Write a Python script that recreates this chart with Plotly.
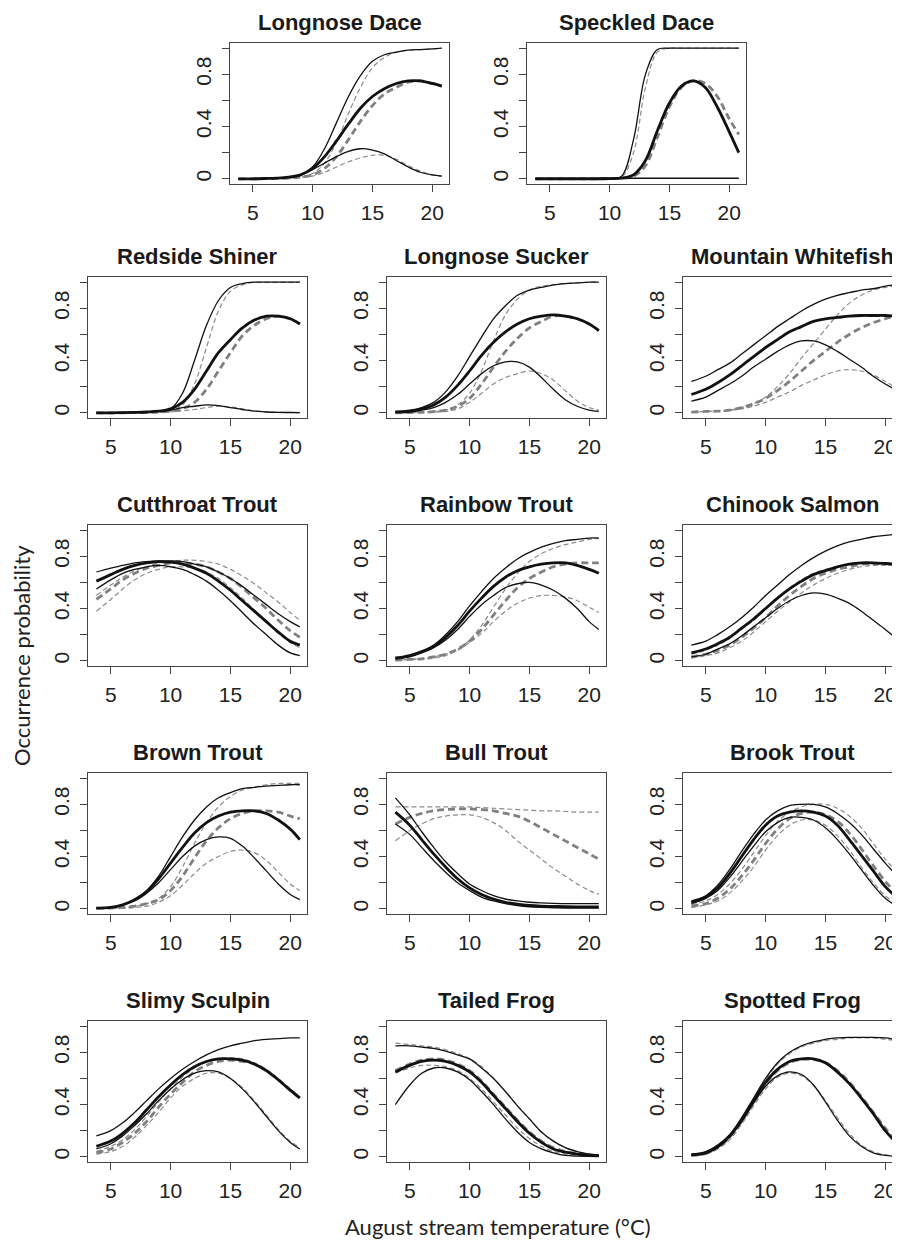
import plotly.graph_objects as go

# Temperature grid (°C) at which curves were read
X = [3.8, 5, 6, 7, 8, 9, 10, 11, 12, 13, 14, 15, 16, 17, 18, 19, 20, 20.8]

# Each species: [black_mid, black_hi, black_lo, gray_mid, gray_hi, gray_lo]
longnose_dace = [
    [0, 0, 0.002, 0.005, 0.012, 0.03, 0.08, 0.17, 0.29, 0.42, 0.54, 0.63, 0.69, 0.73, 0.75, 0.75, 0.73, 0.71],
    [0, 0, 0.002, 0.005, 0.012, 0.03, 0.09, 0.23, 0.43, 0.63, 0.79, 0.9, 0.95, 0.97, 0.985, 0.99, 0.995, 1.0],
    [0, 0, 0.002, 0.005, 0.012, 0.03, 0.07, 0.12, 0.17, 0.21, 0.23, 0.22, 0.19, 0.14, 0.09, 0.05, 0.03, 0.02],
    [0, 0, 0.001, 0.003, 0.006, 0.013, 0.03, 0.08, 0.17, 0.3, 0.44, 0.56, 0.65, 0.7, 0.74, 0.75, 0.73, 0.71],
    [0, 0, 0.001, 0.003, 0.006, 0.013, 0.04, 0.12, 0.28, 0.5, 0.7, 0.85, 0.93, 0.97, 0.985, 0.99, 0.995, 1.0],
    [0, 0, 0.001, 0.003, 0.006, 0.01, 0.02, 0.05, 0.09, 0.13, 0.16, 0.18, 0.18, 0.15, 0.1, 0.06, 0.03, 0.02],
]
speckled_dace = [
    [0, 0, 0, 0, 0, 0, 0.001, 0.005, 0.03, 0.14, 0.37, 0.58, 0.71, 0.75, 0.7, 0.55, 0.36, 0.2],
    [0, 0, 0, 0, 0, 0, 0.001, 0.02, 0.3, 0.8, 0.99, 1.0, 1.0, 1.0, 1.0, 1.0, 1.0, 1.0],
    [0.004, 0.004, 0.004, 0.004, 0.004, 0.004, 0.004, 0.004, 0.004, 0.004, 0.004, 0.004, 0.004, 0.004, 0.004, 0.004, 0.004, 0.004],
    [0, 0, 0, 0, 0, 0, 0.001, 0.004, 0.02, 0.1, 0.32, 0.55, 0.7, 0.75, 0.73, 0.63, 0.46, 0.34],
    [0, 0, 0, 0, 0, 0, 0.001, 0.01, 0.2, 0.7, 0.97, 1.0, 1.0, 1.0, 1.0, 1.0, 1.0, 1.0],
    [0.002, 0.002, 0.002, 0.002, 0.002, 0.002, 0.002, 0.002, 0.002, 0.002, 0.002, 0.002, 0.002, 0.002, 0.002, 0.002, 0.002, 0.002],
]
redside_shiner = [
    [0, 0, 0.001, 0.003, 0.006, 0.012, 0.03, 0.08, 0.18, 0.32, 0.46, 0.56, 0.65, 0.71, 0.74, 0.74, 0.72, 0.68],
    [0, 0, 0.001, 0.003, 0.006, 0.012, 0.03, 0.15, 0.4, 0.67, 0.86, 0.96, 0.99, 1.0, 1.0, 1.0, 1.0, 1.0],
    [0, 0, 0.001, 0.003, 0.006, 0.012, 0.02, 0.04, 0.05, 0.06, 0.055, 0.04, 0.025, 0.012, 0.006, 0.003, 0.002, 0.001],
    [0, 0, 0, 0.001, 0.003, 0.006, 0.012, 0.03, 0.08, 0.18, 0.32, 0.46, 0.59, 0.67, 0.72, 0.74, 0.72, 0.68],
    [0, 0, 0, 0.001, 0.003, 0.006, 0.015, 0.06, 0.22, 0.5, 0.78, 0.93, 0.98, 1.0, 1.0, 1.0, 1.0, 1.0],
    [0, 0, 0, 0.001, 0.002, 0.004, 0.008, 0.015, 0.025, 0.04, 0.05, 0.045, 0.03, 0.015, 0.007, 0.003, 0.002, 0.001],
]
longnose_sucker = [
    [0.005, 0.01, 0.03, 0.06, 0.12, 0.21, 0.32, 0.44, 0.54, 0.62, 0.68, 0.72, 0.74, 0.75, 0.74, 0.72, 0.68, 0.63],
    [0.01, 0.02, 0.04, 0.08, 0.16, 0.28, 0.43, 0.58, 0.72, 0.82, 0.9, 0.94, 0.96, 0.98, 0.99, 0.995, 1.0, 1.0],
    [0.003, 0.008, 0.02, 0.04, 0.08, 0.14, 0.22, 0.3, 0.36, 0.39, 0.39, 0.35, 0.27, 0.18, 0.1, 0.05, 0.02, 0.01],
    [0, 0.002, 0.004, 0.008, 0.02, 0.05, 0.11, 0.22, 0.35, 0.47, 0.57, 0.65, 0.7, 0.74, 0.74, 0.72, 0.68, 0.63],
    [0, 0.002, 0.004, 0.01, 0.02, 0.06, 0.15, 0.32, 0.55, 0.75, 0.87, 0.94, 0.97, 0.98, 0.99, 0.995, 1.0, 1.0],
    [0, 0.001, 0.003, 0.006, 0.01, 0.03, 0.08, 0.15, 0.22, 0.27, 0.3, 0.32, 0.3, 0.25, 0.17, 0.09, 0.04, 0.02],
]
mountain_whitefish = [
    [0.14, 0.18, 0.23, 0.29, 0.36, 0.43, 0.5, 0.56, 0.62, 0.66, 0.7, 0.72, 0.73, 0.74, 0.745, 0.745, 0.745, 0.74],
    [0.24, 0.28, 0.33, 0.38, 0.45, 0.52, 0.59, 0.66, 0.72, 0.78, 0.83, 0.87, 0.9, 0.92, 0.94, 0.95, 0.97, 0.98],
    [0.09, 0.12, 0.17, 0.22, 0.28, 0.35, 0.41, 0.47, 0.52, 0.55, 0.55, 0.52, 0.47, 0.41, 0.35, 0.28, 0.22, 0.18],
    [0.005, 0.01, 0.012, 0.02, 0.04, 0.07, 0.11, 0.17, 0.24, 0.32, 0.4, 0.47, 0.54, 0.6, 0.65, 0.69, 0.72, 0.74],
    [0.005, 0.01, 0.012, 0.02, 0.04, 0.07, 0.12, 0.2, 0.3, 0.42, 0.53, 0.64, 0.75, 0.84, 0.9, 0.94, 0.96, 0.97],
    [0.005, 0.01, 0.012, 0.02, 0.03, 0.05, 0.08, 0.12, 0.16, 0.21, 0.25, 0.29, 0.32, 0.33, 0.32, 0.29, 0.24, 0.2],
]
cutthroat_trout = [
    [0.61, 0.66, 0.7, 0.73, 0.75, 0.76, 0.755, 0.74, 0.71, 0.67, 0.61, 0.54, 0.46, 0.38, 0.3, 0.22, 0.15, 0.12],
    [0.68, 0.71, 0.73, 0.75, 0.76, 0.765, 0.765, 0.76, 0.74, 0.72, 0.68, 0.63, 0.57, 0.5, 0.43, 0.36, 0.3, 0.26],
    [0.55, 0.62, 0.67, 0.7, 0.72, 0.73, 0.72, 0.7, 0.66, 0.61, 0.54, 0.46, 0.37, 0.28, 0.2, 0.12, 0.06, 0.04],
    [0.47, 0.55, 0.62, 0.67, 0.71, 0.73, 0.75, 0.75, 0.74, 0.72, 0.68, 0.63, 0.56, 0.48, 0.4, 0.31, 0.23, 0.18],
    [0.5, 0.58, 0.64, 0.69, 0.72, 0.75, 0.76, 0.77, 0.77, 0.76, 0.74, 0.7, 0.65, 0.59, 0.52, 0.45, 0.37, 0.31],
    [0.38, 0.47, 0.55, 0.62, 0.67, 0.7, 0.72, 0.72, 0.71, 0.68, 0.63, 0.56, 0.48, 0.39, 0.3, 0.21, 0.14, 0.1],
]
rainbow_trout = [
    [0.02, 0.04, 0.07, 0.11, 0.18, 0.27, 0.38, 0.48, 0.57, 0.64, 0.69, 0.72, 0.74, 0.75, 0.75, 0.73, 0.7, 0.67],
    [0.025, 0.04, 0.07, 0.12, 0.2, 0.3, 0.42, 0.53, 0.63, 0.71, 0.78, 0.83, 0.87, 0.9, 0.92, 0.93, 0.94, 0.94],
    [0.015, 0.03, 0.06, 0.1, 0.16, 0.24, 0.34, 0.43, 0.5, 0.56, 0.59, 0.6, 0.58, 0.54, 0.48, 0.4, 0.3, 0.24],
    [0.005, 0.01, 0.015, 0.03, 0.05, 0.09, 0.15, 0.24, 0.35, 0.46, 0.56, 0.63, 0.68, 0.72, 0.74, 0.75, 0.75, 0.75],
    [0.005, 0.01, 0.015, 0.03, 0.05, 0.09, 0.16, 0.27, 0.41, 0.55, 0.67, 0.76, 0.82, 0.86, 0.89, 0.91, 0.93, 0.94],
    [0.005, 0.01, 0.015, 0.02, 0.04, 0.08, 0.14, 0.21, 0.3, 0.38, 0.44, 0.48, 0.5, 0.5, 0.49, 0.46, 0.41, 0.37],
]
chinook_salmon = [
    [0.06, 0.09, 0.13, 0.18, 0.25, 0.32, 0.4, 0.48, 0.55, 0.61, 0.66, 0.69, 0.72, 0.74, 0.75, 0.75, 0.745, 0.74],
    [0.12, 0.15, 0.2, 0.26, 0.33, 0.41, 0.5, 0.58, 0.66, 0.73, 0.79, 0.84, 0.88, 0.91, 0.93, 0.95, 0.96, 0.97],
    [0.03, 0.05, 0.09, 0.13, 0.19, 0.26, 0.33, 0.4, 0.46, 0.5, 0.52, 0.51, 0.48, 0.44, 0.38, 0.31, 0.24, 0.18],
    [0.03, 0.05, 0.08, 0.12, 0.18, 0.25, 0.33, 0.42, 0.5, 0.57, 0.63, 0.67, 0.7, 0.72, 0.74, 0.745, 0.745, 0.74],
    [0.05, 0.08, 0.12, 0.17, 0.24, 0.31, 0.4, 0.48, 0.56, 0.62, 0.67, 0.7, 0.72, 0.74, 0.75, 0.75, 0.745, 0.74],
    [0.02, 0.04, 0.06, 0.1, 0.15, 0.22, 0.3, 0.38, 0.45, 0.52, 0.58, 0.63, 0.67, 0.7, 0.72, 0.73, 0.73, 0.73],
]
brown_trout = [
    [0.005, 0.01, 0.03, 0.07, 0.13, 0.23, 0.35, 0.47, 0.58, 0.66, 0.71, 0.74, 0.75, 0.75, 0.73, 0.68, 0.61, 0.53],
    [0.005, 0.01, 0.03, 0.07, 0.14, 0.25, 0.4, 0.55, 0.68, 0.78, 0.85, 0.89, 0.92, 0.93, 0.94, 0.945, 0.95, 0.95],
    [0.005, 0.01, 0.03, 0.06, 0.12, 0.2, 0.3, 0.4, 0.48, 0.53, 0.55, 0.54, 0.48, 0.39, 0.29, 0.19, 0.11, 0.07],
    [0.003, 0.005, 0.01, 0.02, 0.04, 0.07, 0.14, 0.25, 0.39, 0.52, 0.62, 0.69, 0.73, 0.75, 0.75, 0.74, 0.71, 0.69],
    [0.003, 0.005, 0.01, 0.02, 0.04, 0.08, 0.17, 0.32, 0.5, 0.66, 0.78, 0.86, 0.91, 0.93, 0.95, 0.96, 0.96, 0.96],
    [0.002, 0.003, 0.005, 0.01, 0.02, 0.05, 0.1, 0.18, 0.27, 0.35, 0.4, 0.44, 0.45, 0.43, 0.37, 0.28, 0.19, 0.14],
]
bull_trout = [
    [0.74, 0.64, 0.53, 0.42, 0.32, 0.23, 0.16, 0.11, 0.075, 0.05, 0.035, 0.025, 0.02, 0.018, 0.016, 0.015, 0.015, 0.015],
    [0.85, 0.72, 0.59, 0.47, 0.36, 0.27, 0.19, 0.14, 0.1, 0.075, 0.06, 0.05, 0.045, 0.042, 0.04, 0.04, 0.04, 0.04],
    [0.65, 0.57, 0.47, 0.37, 0.28, 0.2, 0.14, 0.09, 0.06, 0.04, 0.025, 0.015, 0.01, 0.008, 0.006, 0.005, 0.005, 0.005],
    [0.65, 0.7, 0.73, 0.75, 0.76, 0.765, 0.765, 0.76, 0.75, 0.73, 0.71, 0.67, 0.62, 0.57, 0.52, 0.47, 0.42, 0.38],
    [0.78, 0.78, 0.78, 0.78, 0.78, 0.78, 0.78, 0.775, 0.77, 0.765, 0.76, 0.755, 0.75, 0.75, 0.745, 0.74, 0.74, 0.74],
    [0.52, 0.6, 0.65, 0.69, 0.71, 0.72, 0.72, 0.7, 0.66, 0.6, 0.52, 0.45, 0.38, 0.31, 0.25, 0.19, 0.14, 0.11],
]
brook_trout = [
    [0.05, 0.09, 0.16, 0.27, 0.4, 0.53, 0.64, 0.71, 0.74, 0.75, 0.74, 0.71, 0.64, 0.53, 0.41, 0.29, 0.17, 0.1],
    [0.06, 0.1, 0.18, 0.3, 0.44, 0.57, 0.68, 0.75, 0.79, 0.8, 0.8, 0.78, 0.73, 0.66, 0.57, 0.46, 0.35, 0.27],
    [0.04, 0.08, 0.14, 0.24, 0.36, 0.48, 0.59, 0.66, 0.7, 0.7, 0.68, 0.62, 0.53, 0.42, 0.3, 0.18, 0.08, 0.03],
    [0.02, 0.04, 0.08, 0.15, 0.25, 0.37, 0.5, 0.61, 0.69, 0.73, 0.74, 0.72, 0.67, 0.58, 0.46, 0.33, 0.21, 0.13],
    [0.03, 0.06, 0.11, 0.19, 0.3, 0.43, 0.56, 0.67, 0.74, 0.78, 0.8, 0.8, 0.77, 0.71, 0.62, 0.5, 0.38, 0.3],
    [0.01, 0.03, 0.06, 0.12, 0.21, 0.32, 0.45, 0.56, 0.64, 0.68, 0.68, 0.64, 0.56, 0.45, 0.32, 0.2, 0.1, 0.05],
]
slimy_sculpin = [
    [0.08, 0.12, 0.18, 0.26, 0.36, 0.46, 0.55, 0.63, 0.69, 0.73, 0.75, 0.75, 0.74, 0.71, 0.66, 0.59, 0.51, 0.45],
    [0.16, 0.2, 0.26, 0.34, 0.43, 0.52, 0.6, 0.67, 0.73, 0.78, 0.82, 0.85, 0.87, 0.89, 0.9, 0.905, 0.91, 0.91],
    [0.06, 0.1, 0.16, 0.24, 0.33, 0.43, 0.52, 0.59, 0.64, 0.66, 0.65, 0.6, 0.52, 0.42, 0.31, 0.2, 0.11, 0.06],
    [0.03, 0.06, 0.11, 0.18, 0.27, 0.38, 0.48, 0.57, 0.65, 0.7, 0.73, 0.74, 0.73, 0.71, 0.66, 0.59, 0.51, 0.45],
    [0.04, 0.08, 0.13, 0.21, 0.31, 0.42, 0.52, 0.61, 0.68, 0.73, 0.75, 0.76, 0.75, 0.72, 0.67, 0.6, 0.52, 0.46],
    [0.02, 0.04, 0.08, 0.15, 0.24, 0.34, 0.45, 0.54, 0.6, 0.64, 0.64, 0.6, 0.53, 0.43, 0.32, 0.21, 0.12, 0.07],
]
tailed_frog = [
    [0.65, 0.7, 0.73, 0.74, 0.73, 0.7, 0.65, 0.57, 0.47, 0.37, 0.27, 0.18, 0.11, 0.06, 0.035, 0.02, 0.012, 0.01],
    [0.85, 0.85, 0.84, 0.83, 0.81, 0.78, 0.75, 0.68, 0.6, 0.5, 0.39, 0.29, 0.19, 0.12, 0.07, 0.04, 0.02, 0.015],
    [0.4, 0.55, 0.64, 0.68, 0.68, 0.65, 0.59, 0.5, 0.4, 0.29, 0.19, 0.11, 0.06, 0.03, 0.01, 0.005, 0.003, 0.002],
    [0.66, 0.71, 0.74, 0.75, 0.74, 0.71, 0.66, 0.58, 0.48, 0.38, 0.28, 0.19, 0.12, 0.07, 0.04, 0.025, 0.015, 0.01],
    [0.87, 0.86, 0.85, 0.84, 0.82, 0.79, 0.75, 0.69, 0.6, 0.5, 0.39, 0.29, 0.19, 0.12, 0.07, 0.04, 0.02, 0.015],
    [0.64, 0.68, 0.7, 0.7, 0.69, 0.66, 0.6, 0.52, 0.42, 0.32, 0.22, 0.14, 0.08, 0.04, 0.02, 0.01, 0.005, 0.004],
]
spotted_frog = [
    [0.015, 0.03, 0.08, 0.16, 0.28, 0.43, 0.57, 0.67, 0.73, 0.75, 0.75, 0.72, 0.65, 0.56, 0.45, 0.33, 0.2, 0.12],
    [0.02, 0.04, 0.09, 0.17, 0.3, 0.45, 0.6, 0.72, 0.8, 0.85, 0.88, 0.9, 0.91, 0.915, 0.915, 0.915, 0.91, 0.9],
    [0.01, 0.03, 0.07, 0.15, 0.27, 0.41, 0.54, 0.62, 0.65, 0.63, 0.55, 0.42, 0.28, 0.16, 0.08, 0.03, 0.01, 0.005],
    [0.01, 0.025, 0.07, 0.15, 0.27, 0.42, 0.56, 0.66, 0.72, 0.745, 0.745, 0.72, 0.66, 0.57, 0.46, 0.34, 0.22, 0.13],
    [0.015, 0.035, 0.08, 0.16, 0.29, 0.44, 0.59, 0.71, 0.79, 0.84, 0.87, 0.89, 0.9, 0.91, 0.91, 0.91, 0.9, 0.89],
    [0.008, 0.02, 0.06, 0.13, 0.25, 0.39, 0.52, 0.61, 0.64, 0.62, 0.55, 0.43, 0.3, 0.18, 0.09, 0.04, 0.015, 0.006],
]

TITLES = ["Longnose Dace", "Speckled Dace",
          "Redside Shiner", "Longnose Sucker", "Mountain Whitefish",
          "Cutthroat Trout", "Rainbow Trout", "Chinook Salmon",
          "Brown Trout", "Bull Trout", "Brook Trout",
          "Slimy Sculpin", "Tailed Frog", "Spotted Frog"]
SPECIES = [longnose_dace, speckled_dace,
           redside_shiner, longnose_sucker, mountain_whitefish,
           cutthroat_trout, rainbow_trout, chinook_salmon,
           brown_trout, bull_trout, brook_trout,
           slimy_sculpin, tailed_frog, spotted_frog]
X_TICKS = [5, 10, 15, 20]
Y_TICKS = [0, 0.2, 0.4, 0.6, 0.8, 1.0]
Y_TICKTEXT = ["0", "", "0.4", "", "0.8", ""]

# The page body adds an 8px margin, so the figure is sized/positioned to compensate.
OFF = 8
W, H = 900 - OFF, 1242 - OFF
BOX_W, BOX_H = 219, 141
# panel box positions in window pixels (left, top)
POS = [(230, 43), (527, 43),
       (88, 277), (387, 277), (683, 277),
       (88, 525), (387, 525), (683, 525),
       (88, 773), (387, 773), (683, 773),
       (88, 1021), (387, 1021), (683, 1021)]

# style per curve: black mid/hi/lo, gray mid/hi/lo
STYLES = [
    dict(color="#111111", width=2.8, dash="solid"),
    dict(color="#111111", width=1.3, dash="solid"),
    dict(color="#111111", width=1.3, dash="solid"),
    dict(color="#808080", width=2.8, dash="7px,4px"),
    dict(color="#8c8c8c", width=1.2, dash="5px,3px"),
    dict(color="#8c8c8c", width=1.2, dash="5px,3px"),
]
DRAW_ORDER = [4, 5, 3, 1, 2, 0]


def px(xw):
    return (xw - OFF) / W


def py(yw):
    return 1 - (yw - OFF) / H


fig = go.Figure()
layout = {}
annotations = []
for i, (title, data, (lx, ty)) in enumerate(zip(TITLES, SPECIES, POS)):
    n = i + 1
    xa = "x" if n == 1 else f"x{n}"
    ya = "y" if n == 1 else f"y{n}"
    x0 = px(lx)
    x1 = min(px(lx + BOX_W), 1.0)
    y1 = py(ty)
    y0 = py(ty + BOX_H)
    for k in DRAW_ORDER:
        st = STYLES[k]
        fig.add_trace(go.Scatter(
            x=X, y=data[k], mode="lines", xaxis=xa, yaxis=ya,
            line=dict(color=st["color"], width=st["width"], dash=st["dash"],
                      shape="spline", smoothing=1.0),
            showlegend=False, hoverinfo="skip"))
    axis_common = dict(showgrid=False, zeroline=False, showline=True, mirror=True,
                       linecolor="#444444", linewidth=1, ticks="outside", ticklen=7,
                       tickcolor="#444444", tickwidth=1,
                       tickfont=dict(family="Liberation Sans, Arial", size=21, color="#222222"))
    xr_hi = 21.4 if x1 < 1.0 else 3.1 + (21.4 - 3.1) * (900 - lx) / BOX_W
    layout["xaxis" if n == 1 else f"xaxis{n}"] = dict(
        domain=[x0, x1], anchor=ya, range=[3.1, xr_hi], tickvals=X_TICKS,
        ticklabelstandoff=3, **axis_common)
    layout["yaxis" if n == 1 else f"yaxis{n}"] = dict(
        domain=[y0, y1], anchor=xa, range=[-0.04, 1.04], tickvals=Y_TICKS,
        ticktext=Y_TICKTEXT, tickangle=-90, ticklabelstandoff=3, **axis_common)
    annotations.append(dict(
        text=f"<b>{title}</b>", xref="paper", yref="paper",
        x=px(lx + BOX_W / 2), y=py(ty - 21), xanchor="center", yanchor="middle",
        showarrow=False, font=dict(family="Liberation Sans, Arial", size=22, color="#1a1a1a")))

annotations.append(dict(
    text="Occurrence probability", xref="paper", yref="paper", x=px(22), y=py(656),
    xanchor="center", yanchor="middle", textangle=-90, showarrow=False,
    font=dict(family="Lato, Open Sans", size=22, color="#222222")))
annotations.append(dict(
    text="August stream temperature (°C)", xref="paper", yref="paper", x=px(498), y=py(1226),
    xanchor="center", yanchor="middle", showarrow=False,
    font=dict(family="Lato, Open Sans", size=22, color="#222222")))

fig.update_layout(
    width=W, height=H, margin=dict(l=0, r=0, t=0, b=0),
    paper_bgcolor="white", plot_bgcolor="white",
    annotations=annotations, **layout)

fig.write_html("out.html")
